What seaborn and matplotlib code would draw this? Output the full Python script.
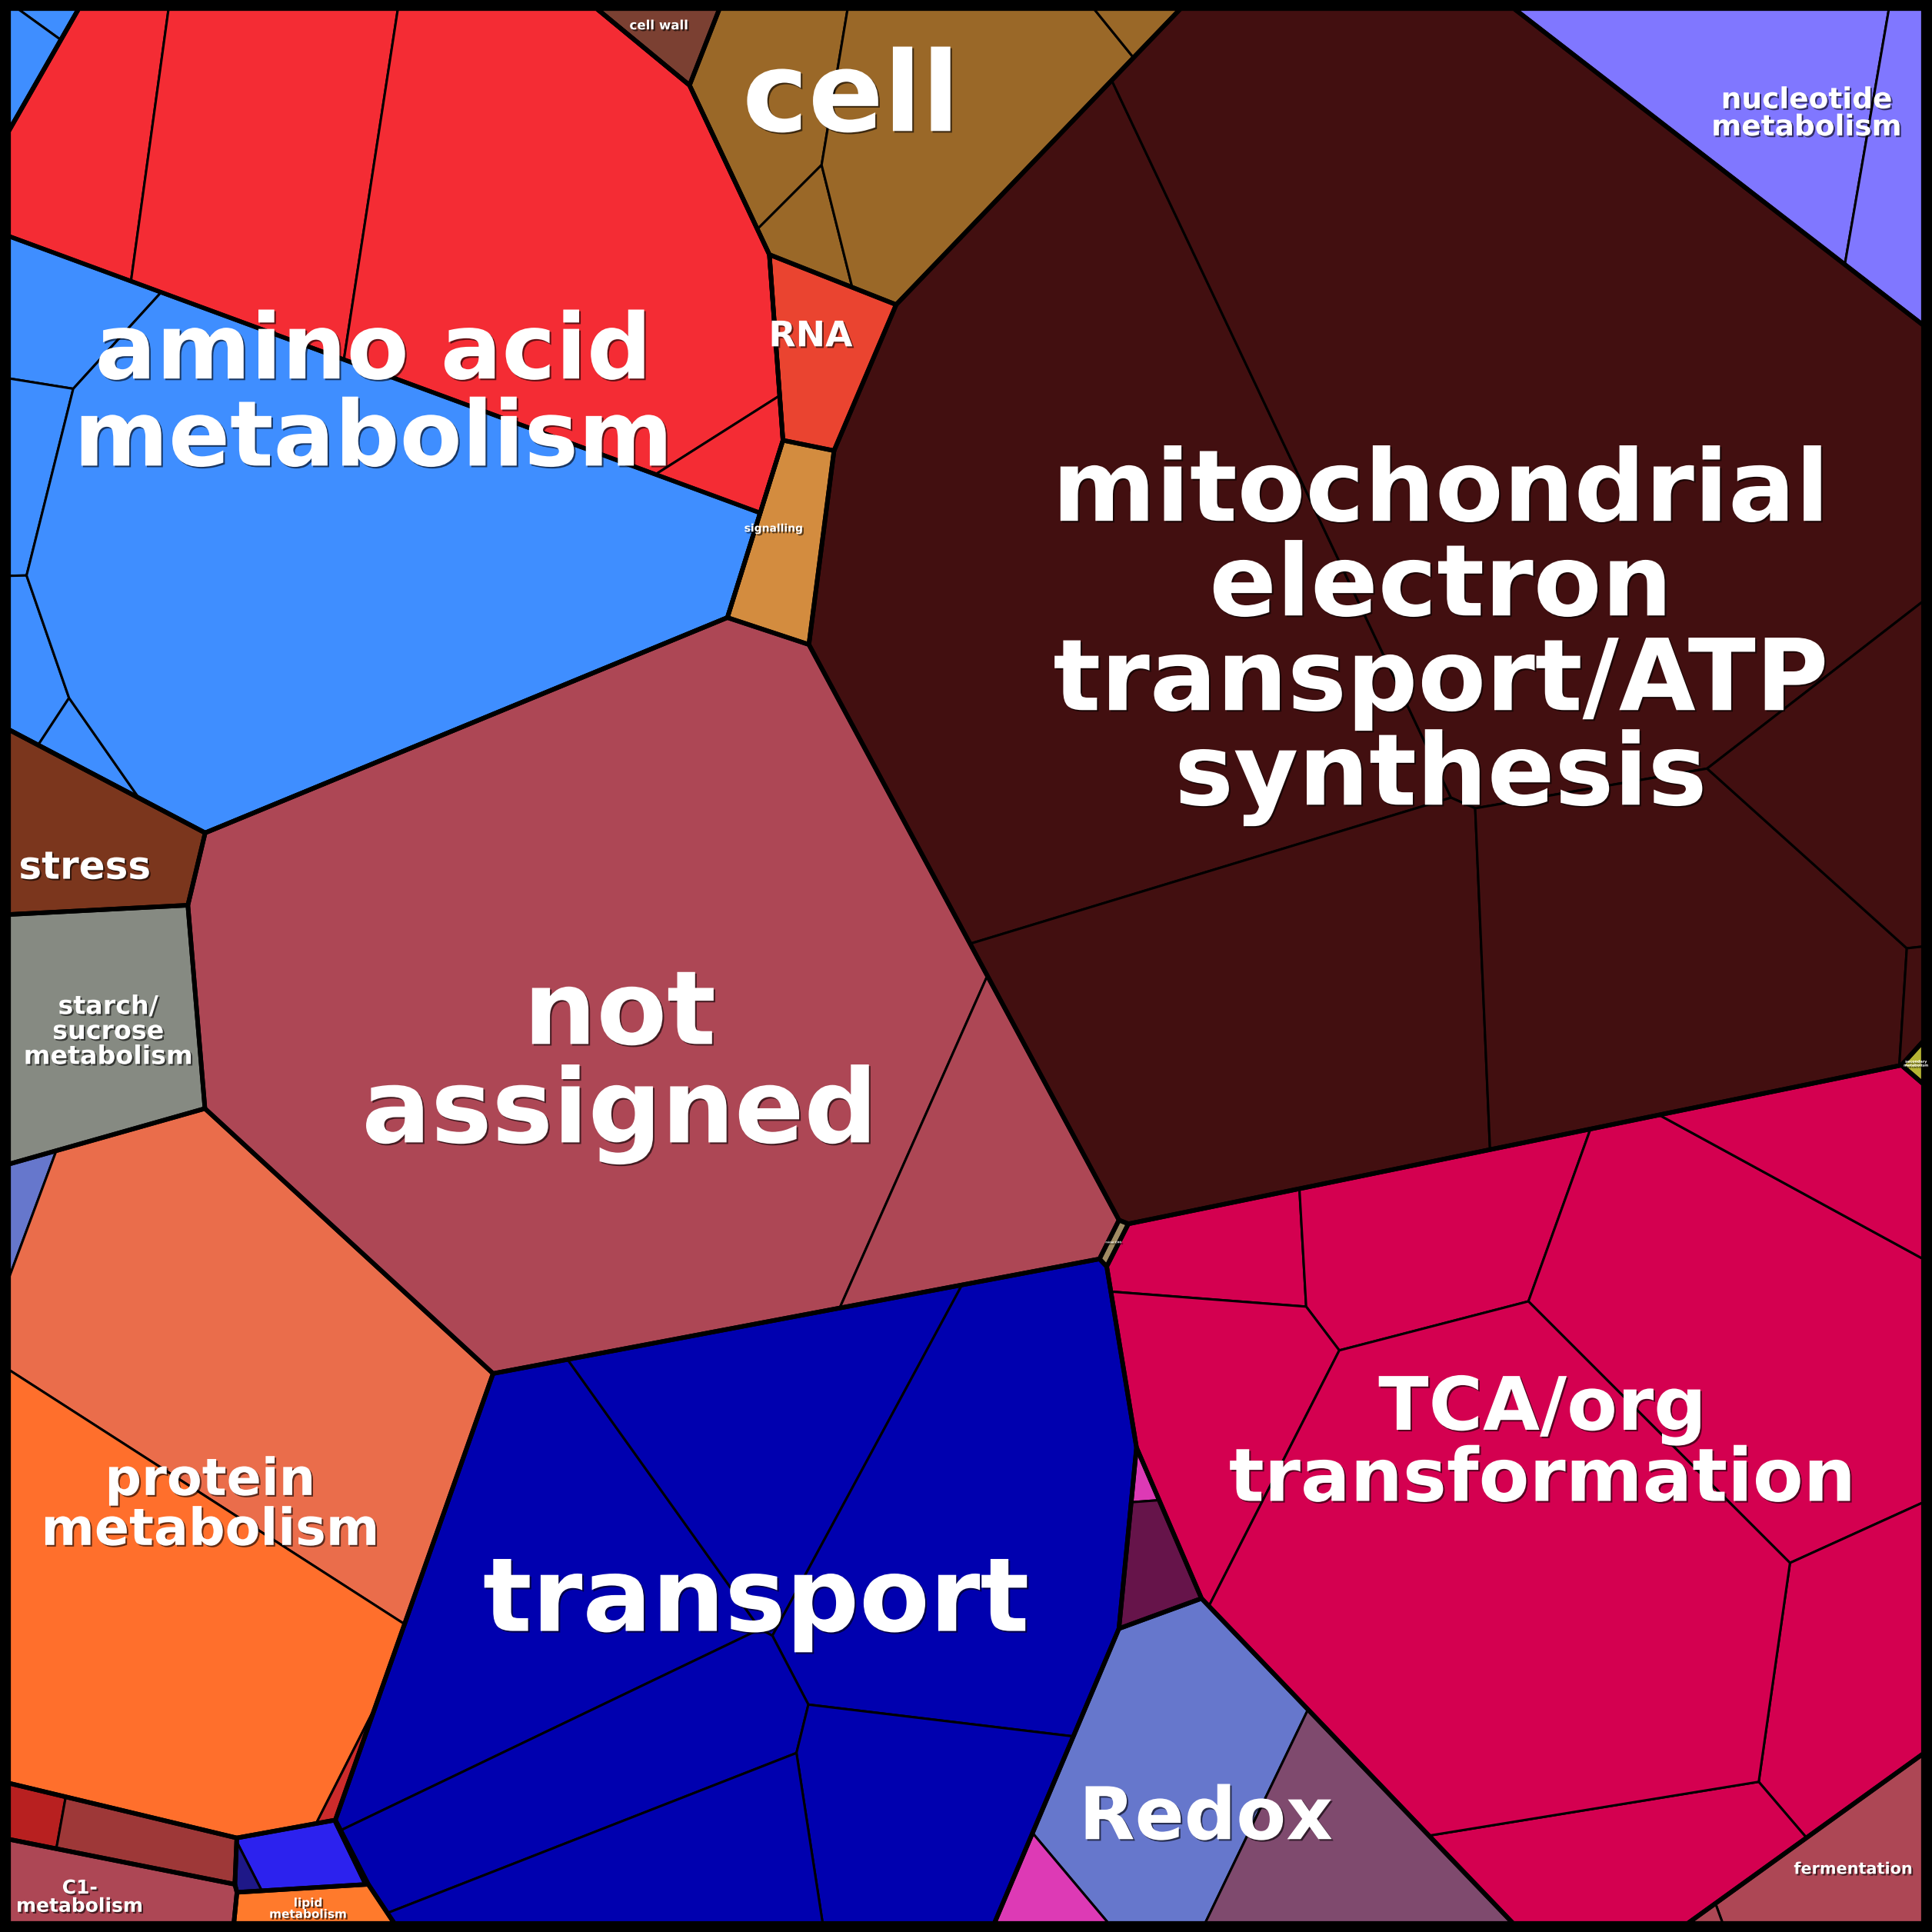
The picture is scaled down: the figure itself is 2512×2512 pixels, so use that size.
import numpy as np
import matplotlib.pyplot as plt
import matplotlib.patheffects as pe
from matplotlib.patches import Polygon
import seaborn as sns

# ---------------------------------------------------------------- data
# top level bins (empty name = bin too small to carry a label)
categories = ["", "amino acid metabolism", "cell wall", "cell", "RNA", "signalling",
              "mitochondrial electron transport/ATP synthesis", "nucleotide metabolism",
              "secondary metabolism", "not assigned", "stress", "starch/sucrose metabolism",
              "protein metabolism", "", "C1-metabolism", "", "lipid metabolism", "transport",
              "minor CHO metabolism", "TCA/org transformation", "fermentation", "Redox", ""]
category_labels = ["", "amino acid\nmetabolism", "cell wall", "cell", "RNA", "signalling",
                   "mitochondrial\nelectron\ntransport/ATP\nsynthesis", "nucleotide\nmetabolism",
                   "secondary\nmetabolism", "not\nassigned", "stress", "starch/\nsucrose\nmetabolism",
                   "protein\nmetabolism", "", "C1-\nmetabolism", "", "lipid\nmetabolism", "transport",
                   "minor CHO", "TCA/org\ntransformation", "fermentation", "Redox", ""]

# leaves: parent bin, sub-bin, abundance, colour
leaf_category = [0, 0,
                 1, 1, 1, 1, 1, 1, 1, 1, 1,
                 2, 3, 3, 3, 3, 4, 5,
                 6, 6, 6, 6, 6, 6,
                 7, 7, 8, 9, 9, 10, 11,
                 12, 12, 12, 12, 13, 13, 14, 15, 15, 15, 16,
                 17, 17, 17, 17, 17, 17, 18,
                 19, 19, 19, 19, 19, 19, 19, 19,
                 20, 20, 21, 21, 21, 22, 22]
leaf_group = [0, 0,
              0, 0, 0, 0, 1, 1, 1, 1, 1,
              0, 0, 0, 0, 0, 0, 0,
              0, 0, 0, 0, 0, 0,
              0, 0, 0, 0, 0, 0, 0,
              0, 0, 0, 0, 0, 0, 0, 0, 0, 0, 0,
              0, 0, 0, 0, 0, 0, 0,
              0, 0, 0, 0, 0, 0, 0, 0,
              0, 0, 0, 0, 0, 0, 0]
leaf_value = [0.63, 2.2,
              20.7, 46.6, 99.5, 4.7, 9.5, 5.3, 4.4, 2.1, 156.1,
              3.1, 15.2, 3.8, 37.7, 1.4, 10.2, 8.6,
              210.2, 280.0, 98.2, 79.8, 25.7, 1.4,
              31.6, 11.1, 0.31, 275.6, 29.3, 16.2, 28.2,
              1.8, 93.5, 78.3, 0.67, 1.9, 5.8, 9.2, 4.1, 0.45, 0.12, 3.4,
              61.8, 41.6, 78.0, 34.5, 30.6, 25.8, 0.3,
              11.4, 27.2, 74.4, 17.1, 26.1, 22.7, 27.0, 137.9,
              12.95, 0.23, 37.2, 21.7, 3.4, 0.5, 4.25]
leaf_color = ["#3F8EFF", "#3F8EFF",
              "#F42C34", "#F42C34", "#F42C34", "#F42C34",
              "#3F8EFF", "#3F8EFF", "#3F8EFF", "#3F8EFF", "#3F8EFF",
              "#7B4032", "#9A6828", "#9A6828", "#9A6828", "#9A6828", "#EA4430", "#D38C3F",
              "#420F10", "#420F10", "#420F10", "#420F10", "#420F10", "#420F10",
              "#8077FF", "#8077FF", "#B6B534", "#AD4755", "#AD4755", "#7B361D", "#868A82",
              "#6677CC", "#EA6D4B", "#FF6F2C", "#CC2B2B", "#B82020", "#9E3838", "#AD4755",
              "#2C22EE", "#1E1888", "#3434DD", "#FF7A2C",
              "#0000AF", "#0000AF", "#0000AF", "#0000AF", "#0000AF", "#0000AF", "#A08C64",
              "#D40050", "#D40050", "#D40050", "#D40050", "#D40050", "#D40050", "#D40050", "#D40050",
              "#AD4755", "#AD4755", "#6677CC", "#7F4A6E", "#DD3AB5", "#DD3AB5", "#66144A"]

# ---------------------------------------------------------------- layout
# starting sites of the Voronoi treemap (units of a 1568 px square, y down)
seed_x = [30, 12,
          65, 210, 470, 595, 45, 22, 25, 61, 270,
          532, 585, 655, 795, 911, 663, 636,
          880, 1250, 1000, 1345, 1525, 1548,
          1400, 1545, 1556, 470, 830, 85, 92,
          26, 265, 85, 285, 33, 127, 95, 245, 200, 287, 245,
          395, 605, 790, 455, 760, 500, 908,
          985, 1160, 1410, 1500, 1510, 1270, 975, 1230,
          1500, 1385, 945, 1080, 838, 925, 940]
seed_y = [120, 160,
          110, 130, 170, 367, 265, 408, 555, 623, 470,
          27, 80, 150, 115, 21, 285, 418,
          445, 270, 840, 825, 625, 838,
          70, 95, 874, 800, 960, 715, 850,
          951, 1040, 1320, 1450, 1478, 1495, 1535, 1495, 1518, 1470, 1550,
          1290, 1140, 1240, 1415, 1490, 1530, 1018,
          1020, 1010, 1100, 935, 1320, 1525, 1150, 1280,
          1515, 1557, 1450, 1515, 1540, 1150, 1370]

# ---------------------------------------------------------------- styles
label_size = [0, 85, 12, 104, 33, 10, 93, 27, 3.5, 96, 36, 24, 48, 0, 18, 0, 11, 96,
              2.5, 69, 15, 68, 0]
label_shift = [(0, 0), (8, 10), (-8, -7), (-37, -17), (-9, -11), (-11, -14), (38, 20), (16, 0),
               (0, 0), (-8, 37), (-4, 22), (7, 5), (0, 20), (0, 0), (-23, 5), (0, 0), (-3, 2),
               (-4, -15), (0, 0), (-23, -28), (7, 2), (-13, 12), (0, 0)]
SIZE = 1568
INSET = 7
THIN, MEDIUM, THICK = 2.2, 4.0, 4.2


# ---------------------------------------------------------------- power diagram
def clip(verts, labs, a0, a1, c, lab):
    out_v, out_l = [], []
    n = len(verts)
    s = [a0 * x + a1 * y - c for x, y in verts]
    for k in range(n):
        px, py = verts[k]
        qx, qy = verts[(k + 1) % n]
        sp, sq = s[k], s[(k + 1) % n]
        if sp <= 0:
            out_v.append((px, py))
            out_l.append(labs[k])
            if sq > 0:
                t = sp / (sp - sq)
                out_v.append((px + t * (qx - px), py + t * (qy - py)))
                out_l.append(lab)
        elif sq <= 0:
            t = sp / (sp - sq)
            out_v.append((px + t * (qx - px), py + t * (qy - py)))
            out_l.append(labs[k])
    return out_v, out_l


def power_cells(poly, sites, w):
    cells = []
    for i, (xi, yi) in enumerate(sites):
        v, l = list(poly), [-1] * len(poly)
        for j, (xj, yj) in enumerate(sites):
            if j == i:
                continue
            c = xj * xj + yj * yj - xi * xi - yi * yi - w[j] + w[i]
            v, l = clip(v, l, 2 * (xj - xi), 2 * (yj - yi), c, j)
            if not v:
                break
        cells.append((v, l))
    return cells


def poly_area(v):
    if len(v) < 3:
        return 0.0
    a = np.asarray(v)
    x, y = a[:, 0], a[:, 1]
    return 0.5 * abs(np.dot(x, np.roll(y, -1)) - np.dot(y, np.roll(x, -1)))


def poly_centroid(v):
    a = np.asarray(v)
    x, y = a[:, 0], a[:, 1]
    x1, y1 = np.roll(x, -1), np.roll(y, -1)
    cr = x * y1 - x1 * y
    A = cr.sum() / 2
    return (x + x1).dot(cr) / (6 * A), (y + y1).dot(cr) / (6 * A)


def contains(v, p):
    sgn = 0
    for k in range(len(v)):
        (x0, y0), (x1, y1) = v[k], v[(k + 1) % len(v)]
        cr = (x1 - x0) * (p[1] - y0) - (y1 - y0) * (p[0] - x0)
        if cr != 0:
            if sgn == 0:
                sgn = np.sign(cr)
            elif np.sign(cr) != sgn:
                return False
    return True


def pull_inside(poly, p):
    cx, cy = poly_centroid(poly)
    x, y = p
    for _ in range(40):
        if contains(poly, (x, y)):
            return (x, y)
        x, y = cx + 0.85 * (x - cx), cy + 0.85 * (y - cy)
    return (cx, cy)


def fit_cells(poly, sites, values, keep_sites=False):
    n = len(sites)
    if n == 1:
        return [list(poly)]
    if not keep_sites:
        sites = [pull_inside(poly, s) for s in sites]
    tgt = np.asarray(values, float)
    tgt = tgt / tgt.sum() * poly_area(poly)
    w = np.zeros(n)
    cells = power_cells(poly, sites, w)
    A = np.array([poly_area(v) for v, _ in cells])
    if A.min() <= 0:
        # give every site a non-empty start cell
        w = np.array([tgt[i] / np.pi for i in range(n)])
        cells = power_cells(poly, sites, w)
        A = np.array([poly_area(v) for v, _ in cells])
    eps = 0.5 * min(A.min(), tgt.min())
    for _ in range(80):
        err = tgt - A
        if np.max(np.abs(err) / tgt) < 2e-3:
            break
        J = np.zeros((n, n))
        for i, (v, l) in enumerate(cells):
            for k in range(len(v)):
                j = l[k]
                if j < 0:
                    continue
                (x0, y0), (x1, y1) = v[k], v[(k + 1) % len(v)]
                L = np.hypot(x1 - x0, y1 - y0)
                d = np.hypot(sites[j][0] - sites[i][0], sites[j][1] - sites[i][1])
                h = L / (2 * d)
                J[i, j] -= h
                J[i, i] += h
        J = 0.5 * (J + J.T)
        dw = np.linalg.lstsq(J, err, rcond=None)[0]
        t, ok = 1.0, False
        while t > 1e-4:
            w_new = w + t * dw
            c_new = power_cells(poly, sites, w_new)
            A_new = np.array([poly_area(v) for v, _ in c_new])
            if A_new.min() >= eps and np.linalg.norm(tgt - A_new) <= (1 - t / 2) * np.linalg.norm(err):
                ok = True
                break
            t *= 0.5
        if not ok:
            break
        w, cells, A = w_new, c_new, A_new
    return [v for v, _ in cells]


# ---------------------------------------------------------------- layout computation
leaf_category = np.array(leaf_category)
leaf_group = np.array(leaf_group)
values = np.array(leaf_value)
sx, sy = np.array(seed_x, float), np.array(seed_y, float)


def weighted_site(idx):
    return (np.average(sx[idx], weights=values[idx]), np.average(sy[idx], weights=values[idx]))


domain = [(INSET, INSET), (SIZE - INSET, INSET), (SIZE - INSET, SIZE - INSET), (INSET, SIZE - INSET)]
cat_idx = [np.where(leaf_category == c)[0] for c in range(len(categories))]
top_cells = fit_cells(domain, [weighted_site(ix) for ix in cat_idx],
                      [values[ix].sum() for ix in cat_idx], keep_sites=True)

leaf_cells = [None] * len(values)
group_cells = []
for c, ix in enumerate(cat_idx):
    groups = sorted(set(leaf_group[ix]))
    g_idx = [ix[leaf_group[ix] == g] for g in groups]
    gcells = fit_cells(top_cells[c], [weighted_site(gi) for gi in g_idx],
                       [values[gi].sum() for gi in g_idx])
    if len(groups) > 1:
        group_cells.extend(gcells)
    for gi, gc in zip(g_idx, gcells):
        lc = fit_cells(gc, [(sx[k], sy[k]) for k in gi], values[gi])
        for k, cell in zip(gi, lc):
            leaf_cells[k] = cell

# ---------------------------------------------------------------- drawing
sns.set_theme(style="white")
plt.rcParams['font.family'] = ['DejaVu Sans']

fig = plt.figure(figsize=(25.12, 25.12), dpi=100, facecolor="black")
ax = fig.add_axes([0, 0, 1, 1])
ax.set_xlim(0, SIZE)
ax.set_ylim(SIZE, 0)
ax.axis("off")

for cell, col in zip(leaf_cells, leaf_color):
    if cell and len(cell) > 2:
        ax.add_patch(Polygon(cell, closed=True, facecolor=col, edgecolor="black",
                             linewidth=THIN, joinstyle="miter"))
for cell in group_cells:
    if cell and len(cell) > 2:
        ax.add_patch(Polygon(cell, closed=True, fill=False, edgecolor="black",
                             linewidth=MEDIUM, joinstyle="miter"))
for cell in top_cells:
    if cell and len(cell) > 2:
        ax.add_patch(Polygon(cell, closed=True, fill=False, edgecolor="black",
                             linewidth=THICK, joinstyle="miter"))

shadow = [pe.withSimplePatchShadow(offset=(1.5, -1.5), shadow_rgbFace="black", alpha=0.6)]
for c, cell in enumerate(top_cells):
    if not category_labels[c] or not cell or len(cell) < 3:
        continue
    cx, cy = poly_centroid(cell)
    dx, dy = label_shift[c]
    ax.text(cx + dx, cy + dy, category_labels[c], fontsize=label_size[c], fontweight="bold",
            color="white", ha="center", va="center", multialignment="center",
            linespacing=0.98, path_effects=shadow)

fig.savefig("out.png", dpi=100, facecolor="black")
